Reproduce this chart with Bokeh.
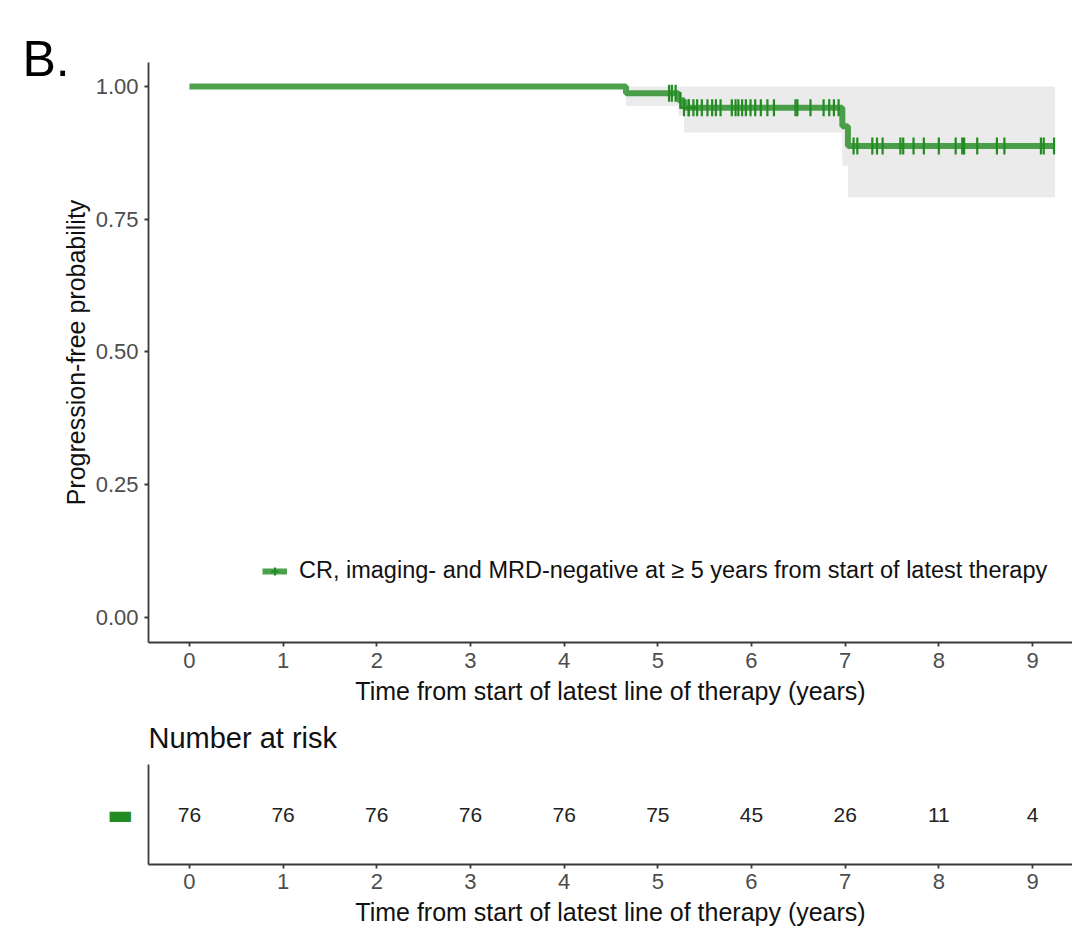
import numpy as np
from bokeh.plotting import figure
from bokeh.models import Range1d, FixedTicker, Legend, LegendItem
from bokeh.layouts import column
from bokeh.embed import file_html
from bokeh.resources import INLINE
from bokeh.core.properties import value

# ---- data ----
step_times = [0.0, 4.66, 5.22, 5.28, 6.97, 7.03, 9.24]
step_surv = [1.0, 0.987, 0.974, 0.960, 0.925, 0.888, 0.888]
ci_low = [1.0, 0.963, 0.945, 0.913, 0.850, 0.791, 0.791]
ci_high = [1.0, 1.0, 1.0, 1.0, 1.0, 1.0, 1.0]
censor_times = [5.12, 5.15, 5.19, 5.24, 5.28, 5.33, 5.38, 5.42, 5.47, 5.53, 5.58,
                5.62, 5.67, 5.79, 5.83, 5.86, 5.90, 5.94, 5.99, 6.04, 6.10, 6.17,
                6.24, 6.47, 6.49, 6.63, 6.77, 6.83, 6.88, 6.93,
                7.09, 7.13, 7.29, 7.34, 7.40, 7.59, 7.62, 7.73, 7.84, 8.00, 8.18,
                8.25, 8.27, 8.41, 8.62, 8.70, 9.09, 9.12, 9.23]
risk_times = [0, 1, 2, 3, 4, 5, 6, 7, 8, 9]
risk_counts = [76, 76, 76, 76, 76, 75, 45, 26, 11, 4]
x_ticks = [0, 1, 2, 3, 4, 5, 6, 7, 8, 9]
y_ticks = [0.0, 0.25, 0.5, 0.75, 1.0]
y_tick_labels = ["0.00", "0.25", "0.50", "0.75", "1.00"]
series_label = "CR, imaging- and MRD-negative at \u2265 5 years from start of latest therapy"
x_title = "Time from start of latest line of therapy (years)"
y_title = "Progression-free probability"
panel_tag = "B."
risk_title = "Number at risk"
risk_key = "\u25ac"

FONT = "Liberation Sans"
GREEN = "#228B22"
AXIS_COL = "#3a3a3a"
TICK_TXT = "#4d4d4d"

idx = np.searchsorted(step_times, censor_times, side="right") - 1
censor_surv = [step_surv[i] for i in idx]

XR = (-0.437, 9.427)


def style_axes(fig, x_standoff):
    fig.outline_line_color = None
    fig.xgrid.visible = False
    fig.ygrid.visible = False
    for ax in (fig.xaxis[0], fig.yaxis[0]):
        ax.axis_line_color = AXIS_COL
        ax.axis_line_width = 1.8
        ax.major_tick_line_color = AXIS_COL
        ax.major_tick_line_width = 1.8
        ax.major_tick_out = 4
        ax.major_tick_in = 0
        ax.minor_tick_line_color = None
        ax.major_label_text_font = FONT
        ax.major_label_text_font_size = "22px"
        ax.major_label_text_color = TICK_TXT
        ax.axis_label_text_font = FONT
        ax.axis_label_text_font_size = "25px"
        ax.axis_label_text_font_style = "normal"
        ax.axis_label_text_color = "#111111"
    fig.xaxis[0].ticker = FixedTicker(ticks=x_ticks)
    fig.xaxis[0].axis_label = x_title
    fig.xaxis[0].major_label_standoff = x_standoff
    fig.xaxis[0].axis_label_standoff = 6


# ---- main KM plot ----
p = figure(width=1072, height=708, x_range=Range1d(*XR), y_range=Range1d(-0.047, 1.045),
           output_backend="svg", toolbar_location=None,
           min_border_left=148, min_border_right=0, min_border_top=62, min_border_bottom=66)
style_axes(p, 6)
p.yaxis[0].ticker = FixedTicker(ticks=y_ticks)
p.yaxis[0].major_label_overrides = {t: s for t, s in zip(y_ticks, y_tick_labels)}
p.yaxis[0].axis_label = y_title
p.yaxis[0].major_label_standoff = 6
p.yaxis[0].axis_label_standoff = 3

# panel tag "B." drawn as the figure title, shifted to the left corner
p.title.text = panel_tag
p.title.text_font = FONT
p.title.text_font_size = "50px"
p.title.text_font_style = "normal"
p.title.text_color = "#000000"
p.title.align = "left"
p.title.offset = -126
p.title.standoff = -49

p.varea_step(x=step_times, y1=ci_low, y2=ci_high, step_mode="after",
             fill_color="#ebebeb", fill_alpha=1.0)
line_r = p.step(step_times, step_surv, mode="after", line_width=6,
                line_color=GREEN, line_alpha=0.8)
p.scatter(censor_times, censor_surv, marker="dash", angle=np.pi / 2, size=17,
          line_color=GREEN, line_width=2.2)
# legend key: censor "+" mark (drawn over one existing censor mark)
key_r = p.scatter(x=censor_times[5:6], y=censor_surv[5:6], marker="cross", size=17,
                  line_color=GREEN, line_width=2.2)

leg = Legend(items=[LegendItem(label=series_label, renderers=[line_r, key_r])],
             location=(114, 58), padding=0, margin=0, spacing=0,
             border_line_color=None, background_fill_alpha=0,
             glyph_width=25, glyph_height=20, label_standoff=12,
             label_text_font=FONT, label_text_font_size="23.5px", label_text_color="#111111")
p.add_layout(leg)

# ---- risk table ----
r = figure(width=1072, height=220, x_range=Range1d(*XR), y_range=Range1d(0, 1),
           output_backend="svg", toolbar_location=None,
           min_border_left=148, min_border_right=0, min_border_top=55, min_border_bottom=62)
style_axes(r, 5)
r.yaxis[0].ticker = FixedTicker(ticks=[0.5])
r.yaxis[0].major_label_overrides = {0.5: risk_key}
r.yaxis[0].major_label_text_color = GREEN
r.yaxis[0].major_label_text_font = "DejaVu Sans"
r.yaxis[0].major_label_text_font_size = "28px"
r.yaxis[0].major_label_standoff = 15
r.yaxis[0].major_tick_line_color = None
r.yaxis[0].major_tick_out = 0
r.title.text = risk_title
r.title.text_font = FONT
r.title.text_font_size = "29px"
r.title.text_font_style = "normal"
r.title.text_color = "#111111"
r.title.align = "left"
r.title.standoff = 22

r.text(x=risk_times, y=[0.5] * len(risk_times), text=[str(c) for c in risk_counts],
       text_align="center", text_baseline="middle", text_font=value(FONT),
       text_font_size="21px", text_color="#222222")

layout = column(p, r, spacing=0)
open("out.html", "w").write(file_html(layout, INLINE))
